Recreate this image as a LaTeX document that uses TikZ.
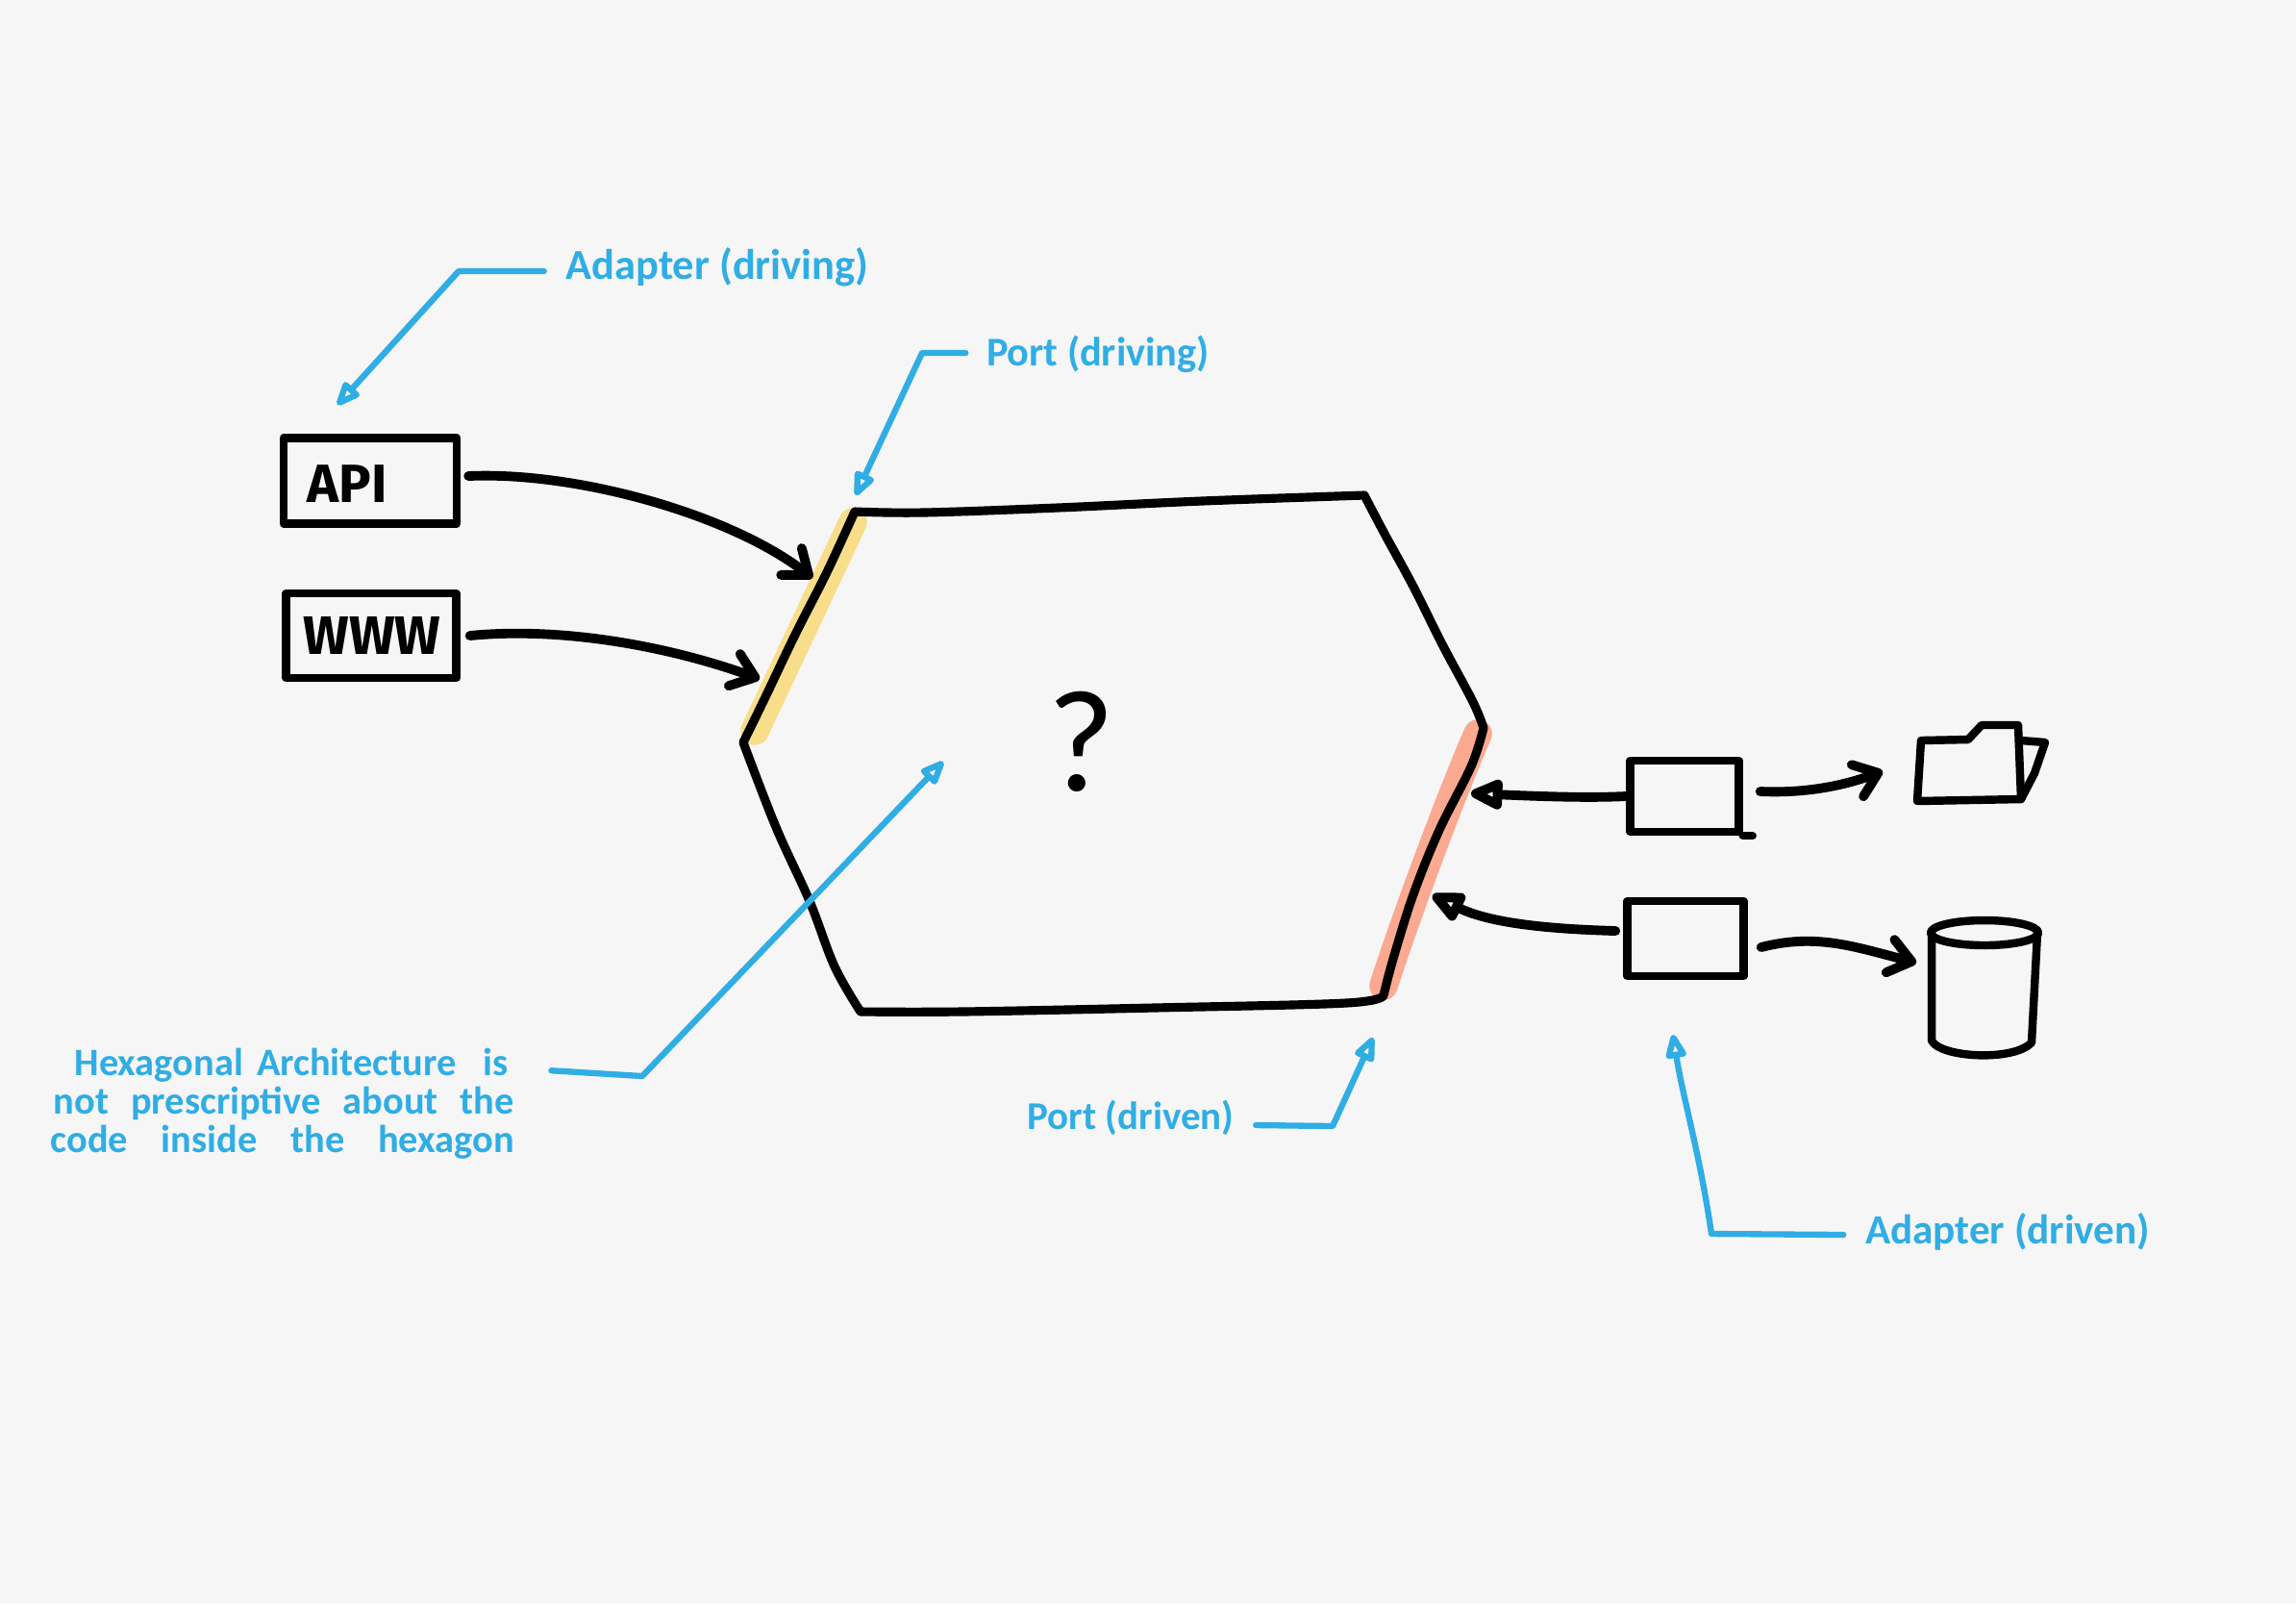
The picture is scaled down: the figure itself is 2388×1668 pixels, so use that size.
\documentclass[tikz,border=0pt]{standalone}
\usepackage{fontspec}
\usepackage{graphicx}
\usetikzlibrary{arrows.meta}
\setmainfont{Carlito}
\newfontfamily\boldhand{Fira Sans}
\newlength\pxu
\setlength\pxu{0.01cm}
\newcommand{\fitw}[2]{\resizebox{#1\pxu}{!}{#2}}
\definecolor{paper}{HTML}{F6F6F6}
\definecolor{inkblue}{HTML}{30ADE4}
\definecolor{portyellow}{HTML}{F8DE8A}
\definecolor{portsalmon}{HTML}{FBA990}
\tikzset{
  ink/.style={draw=black,line width=2.4pt,line cap=round,line join=round},
  wire/.style={draw=black,line width=2.8pt,line cap=round,line join=round},
  hexline/.style={draw=black,line width=2.6pt,line cap=round,line join=round},
  bluel/.style={draw=inkblue,line width=1.8pt,line cap=round,line join=round},
  band/.style={line width=8.4pt,line cap=round},
  boxn/.style={ink,rectangle,inner sep=0pt},
  note/.style={text=inkblue,inner sep=0pt,font=\bfseries},
  blackhead/.style={-{Straight Barb[length=6.5pt,width=10pt,round]}},
  hollowhead/.style={-{Triangle[open,length=11.5pt,width=9.5pt,round]}},
  bluehead/.style={-{Triangle[open,length=8.5pt,width=6.5pt,round]}},
}
\begin{document}
\begin{tikzpicture}[x=0.01cm,y=-0.01cm]
\fill[paper] (0,0) rectangle (2388,1668);
\useasboundingbox (0,0) rectangle (2388,1668);
% port highlights
\coordinate (yt) at (887,543);
\coordinate (yb) at (785,760);
\coordinate (st) at (1537,763);
\coordinate (sb) at (1439,1025);
\draw[band,portyellow] (yt) -- (yb);
\draw[band,portsalmon] (st) .. controls (1510,825) and (1465,945) .. (sb);
% hexagon
\coordinate (h1) at (889,532);
\coordinate (h2) at (1419,515);
\coordinate (h3) at (1543,757);
\coordinate (h4) at (1439,1035);
\coordinate (h5) at (895,1052);
\coordinate (h6) at (773,772);
\draw[hexline]
  plot[smooth,tension=.6] coordinates {(h1) (960,533) (1100,528) (1250,521) (h2)}
  plot[smooth,tension=.6] coordinates {(h2) (1440,555) (1470,610) (1500,670) (1532,730) (h3)}
  plot[smooth,tension=.6] coordinates {(h3) (1530,797) (1497,863) (1470,930) (1449,997) (h4)}
  plot[smooth,tension=.6] coordinates {(h4) (1400,1043) (1200,1048) (1000,1052) (h5)}
  plot[smooth,tension=.6] coordinates {(h5) (868,1005) (842,937) (807,860) (h6)}
  plot[smooth,tension=.6] coordinates {(h6) (795,727) (827,660) (860,595) (h1)};
% boxes
\node[boxn,minimum width=180\pxu,minimum height=89\pxu] (api) at (385,500) {};
\node[boxn,minimum width=177\pxu,minimum height=88\pxu] (www) at (386,661) {};
\node[boxn,minimum width=113\pxu,minimum height=74\pxu] (ad1) at (1752,828) {};
\node[boxn,minimum width=121\pxu,minimum height=78\pxu] (ad2) at (1753,976) {};
\draw[ink] (ad1.south east) -- ++(10,0);
\node[inner sep=0pt,font=\bfseries\boldhand] (apit) at (361,503) {\fitw{83}{API}};
\node[inner sep=0pt,font=\bfseries\boldhand] (wwwt) at (387,661) {\fitw{143}{WWW}};
% folder
\coordinate (f1) at (1998,770);
\coordinate (f2) at (2047,769);
\coordinate (f3) at (2061,754);
\coordinate (f4) at (2099,754);
\coordinate (f5) at (2102,831);
\coordinate (f6) at (1994,833);
\coordinate (f7) at (2102,770);
\coordinate (f8) at (2127,772);
\coordinate (f9) at (2116,804);
\draw[ink] (f1) -- (f2) -- (f3) -- (f4) -- (f5) -- (f6) -- cycle;
\draw[ink] (f7) -- (f8) -- (f9) -- (f5);
% cylinder
\coordinate (cy) at (2064,970);
\draw[ink] (cy) ellipse [x radius=56,y radius=13];
\draw[ink] (2009,970) -- (2009,1082) .. controls (2018,1100) and (2095,1104) .. (2113,1084) -- (2119,970);
\coordinate (cyl) at (1993,1001);
\coordinate (fol) at (1958,802);
% black arrows
\coordinate (tapi) at (845,601);
\coordinate (twww) at (790,706);
\coordinate (td1) at (1530,825);
\coordinate (td2) at (1490,931);
\draw[wire,blackhead] ([xshift=8\pxu,yshift=5\pxu]api.east) .. controls (600,490) and (760,535) .. (tapi);
\draw[wire,blackhead] ([xshift=10\pxu]www.east) .. controls (580,652) and (690,670) .. (twww);
\draw[wire,hollowhead] (ad1.west) .. controls (1650,830) and (1600,828) .. (td1);
\draw[wire,hollowhead] ([xshift=-8\pxu,yshift=8\pxu]ad2.west) .. controls (1610,966) and (1550,960) .. (td2);
\draw[wire,blackhead] ([xshift=18\pxu,yshift=5\pxu]ad1.east) .. controls (1875,825) and (1915,818) .. (fol);
\draw[wire,blackhead] ([xshift=14\pxu,yshift=-9\pxu]ad2.east) .. controls (1890,970) and (1930,985) .. (cyl);
% question mark
\node[inner sep=0pt,font=\fontsize{43}{43}\selectfont] (q) at (1125,771) {?};
% notes
\node[note] (n1) at (746,278) {\fitw{315}{Adapter (driving)}};
\node[note] (n2) at (1142,368) {\fitw{232}{Port (driving)}};
\node[note] (n3) at (1176,1162) {\fitw{215}{Port (driven)}};
\node[note] (n4) at (2088,1281) {\fitw{296}{Adapter (driven)}};
\node[note,anchor=base west,font=\fontsize{11.5}{12}\selectfont\bfseries] (l1) at (77,1118) {\makebox[451\pxu][s]{Hexagonal Architecture \ is}};
\node[note,anchor=base west,font=\fontsize{11.5}{12}\selectfont\bfseries] (l2) at (55,1158) {\makebox[479\pxu][s]{not prescriptive about the}};
\node[note,anchor=base west,font=\fontsize{11.5}{12}\selectfont\bfseries] (l3) at (52,1198) {\makebox[482\pxu][s]{code inside the hexagon}};
% blue leaders
\coordinate (a1) at (477,282);
\coordinate (a1t) at (351,421);
\draw[bluel,bluehead] ([xshift=-22\pxu,yshift=-4\pxu]n1.west) -- (a1) -- (a1t);
\coordinate (a2) at (959,367);
\coordinate (a2t) at (890,515);
\draw[bluel,bluehead] ([xshift=-21\pxu,yshift=1\pxu]n2.west) -- (a2) -- (a2t);
\coordinate (a3) at (1386,1171);
\coordinate (a3t) at (1428,1079);
\draw[bluel,bluehead] ([xshift=22\pxu,yshift=-8\pxu]n3.east) -- (a3) -- (a3t);
\coordinate (a4) at (1780,1283);
\coordinate (a4t) at (1740,1076);
\draw[bluel,bluehead] ([xshift=-22\pxu,yshift=-3\pxu]n4.west) -- (a4) .. controls (1768,1200) and (1750,1140) .. (a4t);
\coordinate (a5) at (668,1119);
\coordinate (a5t) at (981,792);
\draw[bluel,bluehead] ([xshift=44\pxu,yshift=-6\pxu]l1.east) -- (a5) -- (a5t);
\end{tikzpicture}
\end{document}
